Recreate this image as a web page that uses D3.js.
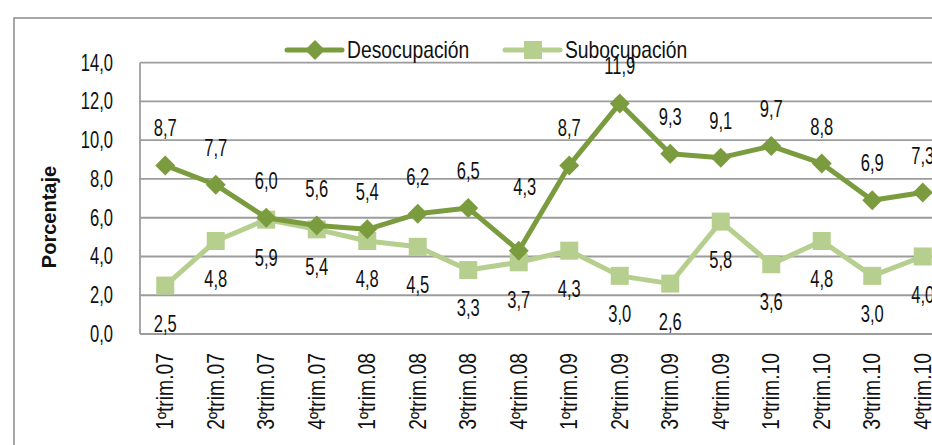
<!DOCTYPE html>
<html>
<head>
<meta charset="utf-8">
<script src="https://cdn.jsdelivr.net/npm/d3@7"></script>
<style>
  html, body { margin: 0; padding: 0; background: #fff; }
  svg text { font-family: "Liberation Sans", Arial, sans-serif; fill: #111; }
</style>
</head>
<body>
<div id="vis"></div>
<script>
// index.html

const quarters = [
  '1ºtrim.07', '2ºtrim.07', '3ºtrim.07', '4ºtrim.07',
  '1ºtrim.08', '2ºtrim.08', '3ºtrim.08', '4ºtrim.08',
  '1ºtrim.09', '2ºtrim.09', '3ºtrim.09', '4ºtrim.09',
  '1ºtrim.10', '2ºtrim.10', '3ºtrim.10', '4ºtrim.10'
];
const desocupacion = [8.7, 7.7, 6.0, 5.6, 5.4, 6.2, 6.5, 4.3, 8.7, 11.9, 9.3, 9.1, 9.7, 8.8, 6.9, 7.3];
const subocupacion = [2.5, 4.8, 5.9, 5.4, 4.8, 4.5, 3.3, 3.7, 4.3, 3.0, 2.6, 5.8, 3.6, 4.8, 3.0, 4.0];
const yTicks = [0, 2, 4, 6, 8, 10, 12, 14];
const seriesNames = ['Desocupación', 'Subocupación'];

const darkGreen = '#7b9c3e';
const lightGreen = '#b6cf8f';
const fmt = v => d3.format('.1f')(v).replace('.', ',');

// the original uses a condensed face; squeeze Liberation Sans horizontally
const numSqueeze = 0.72;
const wordSqueeze = 0.84;

function createVis() {
  const width = 932;
  const height = 445;

  const svg = d3.select('#vis')
    .append('svg')
      .attr('width', width)
      .attr('height', height);

  // outer chart frame (cut off on the right / bottom)
  svg.append('path')
    .attr('d', `M14,${height} L14,18 L${width},18`)
    .attr('fill', 'none')
    .attr('stroke', '#8a8a8a')
    .attr('stroke-width', 1.5);

  const left = 140;
  const step = 50.5;
  const x = d3.scaleBand()
    .domain(quarters)
    .range([left, left + step * quarters.length]);
  const y = d3.scaleLinear()
    .domain([0, 14])
    .range([334, 62.7]);
  const cx = q => x(q) + x.bandwidth() / 2;

  // gridlines
  svg.append('g')
    .selectAll('line')
    .data(yTicks)
    .join('line')
      .attr('x1', left)
      .attr('x2', width)
      .attr('y1', d => y(d))
      .attr('y2', d => y(d))
      .attr('stroke', '#9c9c9c')
      .attr('stroke-width', 1.8);

  // left axis line
  svg.append('line')
    .attr('x1', left).attr('x2', left)
    .attr('y1', y(14)).attr('y2', y(0))
    .attr('stroke', '#9c9c9c')
    .attr('stroke-width', 1.8);

  // y tick labels
  const yAxis = svg.append('g')
    .attr('transform', `translate(${left},0)`)
    .call(d3.axisLeft(y).tickValues(yTicks).tickFormat(fmt).tickSize(0));
  yAxis.select('.domain').remove();
  yAxis.selectAll('text')
    .attr('x', null)
    .attr('transform', `translate(-27,0) scale(${numSqueeze},1)`)
    .style('font-size', '23px')
    .attr('fill', '#111');

  // y title
  svg.append('text')
    .attr('transform', 'translate(49,217) rotate(-90)')
    .attr('text-anchor', 'middle')
    .attr('dy', '0.35em')
    .style('font-size', '20px')
    .style('font-weight', 'bold')
    .text('Porcentaje');

  // x labels
  svg.append('g')
    .selectAll('text')
    .data(quarters)
    .join('text')
      .attr('transform', d => `translate(${cx(d)},353) rotate(-90) scale(${wordSqueeze},1)`)
      .attr('text-anchor', 'end')
      .attr('dy', '0.35em')
      .style('font-size', '23px')
      .text(d => d);

  const line = d3.line()
    .x((d, i) => cx(quarters[i]))
    .y(d => y(d));

  // Subocupación series
  svg.append('path')
    .datum(subocupacion)
    .attr('d', line)
    .attr('fill', 'none')
    .attr('stroke', lightGreen)
    .attr('stroke-width', 5)
    .attr('stroke-linejoin', 'round');
  svg.append('g')
    .selectAll('rect')
    .data(subocupacion)
    .join('rect')
      .attr('x', (d, i) => cx(quarters[i]) - 9)
      .attr('y', d => y(d) - 9)
      .attr('width', 18)
      .attr('height', 18)
      .attr('fill', lightGreen);

  // Desocupación series
  svg.append('path')
    .datum(desocupacion)
    .attr('d', line)
    .attr('fill', 'none')
    .attr('stroke', darkGreen)
    .attr('stroke-width', 5)
    .attr('stroke-linejoin', 'round');
  const diamond = d3.symbol().type(d3.symbolSquare).size(200);
  svg.append('g')
    .selectAll('path')
    .data(desocupacion)
    .join('path')
      .attr('d', diamond)
      .attr('transform', (d, i) => `translate(${cx(quarters[i])},${y(d)}) rotate(45)`)
      .attr('fill', darkGreen);

  // value labels
  const nudge = { 7: [6, -27] }; // manually moved label in the original
  svg.append('g')
    .selectAll('text')
    .data(desocupacion)
    .join('text')
      .attr('transform', (d, i) => {
        const [nx, ny] = nudge[i] || [0, 0];
        return `translate(${cx(quarters[i]) + nx},${y(d) - 37 + ny}) scale(${numSqueeze},1)`;
      })
      .attr('text-anchor', 'middle')
      .attr('dy', '0.35em')
      .style('font-size', '23px')
      .text(fmt);
  svg.append('g')
    .selectAll('text')
    .data(subocupacion)
    .join('text')
      .attr('transform', (d, i) => `translate(${cx(quarters[i])},${y(d) + 38}) scale(${numSqueeze},1)`)
      .attr('text-anchor', 'middle')
      .attr('dy', '0.35em')
      .style('font-size', '23px')
      .text(fmt);

  // legend
  const legendX = [287, 505];
  const legend = svg.append('g')
    .selectAll('g')
    .data(seriesNames)
    .join('g')
      .attr('transform', (d, i) => `translate(${legendX[i]},50)`);
  legend.append('line')
    .attr('x1', 0).attr('x2', 55)
    .attr('stroke', (d, i) => i === 0 ? darkGreen : lightGreen)
    .attr('stroke-width', 5)
    .attr('stroke-linecap', 'round');
  legend.filter((d, i) => i === 0).append('path')
    .attr('d', diamond)
    .attr('transform', 'translate(28,0) rotate(45)')
    .attr('fill', darkGreen);
  legend.filter((d, i) => i === 1).append('rect')
    .attr('x', 19).attr('y', -9)
    .attr('width', 18).attr('height', 18)
    .attr('fill', lightGreen);
  legend.append('text')
    .attr('transform', `translate(60,0) scale(${wordSqueeze},1)`)
    .attr('dy', '0.35em')
    .style('font-size', '23px')
    .text(d => d);
}

window.addEventListener('load', createVis);
</script>
</body>
</html>
